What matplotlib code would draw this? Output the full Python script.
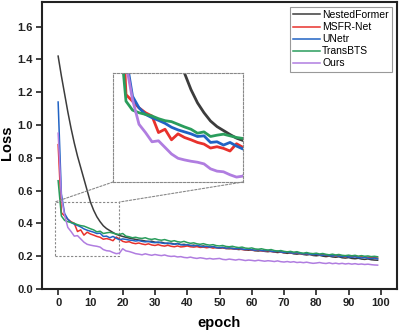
import matplotlib
matplotlib.use('Agg')
import matplotlib.pyplot as plt
import matplotlib.patches as patches
from matplotlib.patches import ConnectionPatch
import numpy as np

plt.rcParams['font.family'] = ['Liberation Sans', 'DejaVu Sans']

epochs = np.arange(100)

nestedformer = [1.42, 1.30, 1.19, 1.08, 0.98, 0.89, 0.81, 0.74, 0.67, 0.60,
                0.53, 0.48, 0.44, 0.41, 0.385, 0.368, 0.356, 0.344, 0.333, 0.326,
                0.32, 0.315, 0.31, 0.306, 0.302, 0.298, 0.296, 0.292, 0.289, 0.291,
                0.285, 0.282, 0.285, 0.279, 0.276, 0.279, 0.273, 0.277, 0.27, 0.272,
                0.268, 0.264, 0.267, 0.262, 0.259, 0.262, 0.257, 0.254, 0.257, 0.252,
                0.25, 0.253, 0.247, 0.245, 0.248, 0.243, 0.24, 0.243, 0.238, 0.236,
                0.238, 0.233, 0.231, 0.234, 0.229, 0.227, 0.23, 0.225, 0.222, 0.225,
                0.22, 0.217, 0.22, 0.214, 0.212, 0.215, 0.21, 0.207, 0.21, 0.204,
                0.202, 0.205, 0.2, 0.197, 0.2, 0.195, 0.193, 0.196, 0.19, 0.188,
                0.191, 0.186, 0.184, 0.187, 0.182, 0.18, 0.183, 0.178, 0.176, 0.175]

msfr_net = [0.88, 0.465, 0.445, 0.425, 0.41, 0.40, 0.35, 0.36, 0.328, 0.346,
            0.335, 0.328, 0.32, 0.315, 0.303, 0.307, 0.302, 0.294, 0.316, 0.305,
            0.29, 0.285, 0.288, 0.28, 0.276, 0.28, 0.274, 0.27, 0.275, 0.268,
            0.265, 0.27, 0.264, 0.261, 0.266, 0.26, 0.257, 0.262, 0.256, 0.258,
            0.262, 0.257, 0.255, 0.258, 0.253, 0.255, 0.251, 0.254, 0.249, 0.252,
            0.248, 0.25, 0.246, 0.248, 0.244, 0.242, 0.245, 0.24, 0.238, 0.241,
            0.236, 0.234, 0.237, 0.232, 0.23, 0.233, 0.228, 0.226, 0.229, 0.224,
            0.221, 0.224, 0.219, 0.217, 0.22, 0.215, 0.213, 0.216, 0.211, 0.209,
            0.212, 0.207, 0.21, 0.205, 0.203, 0.206, 0.201, 0.204, 0.199, 0.197,
            0.2, 0.196, 0.198, 0.194, 0.196, 0.192, 0.194, 0.19, 0.192, 0.188]

unetr = [1.14, 0.58, 0.46, 0.425, 0.405, 0.395, 0.387, 0.378, 0.366, 0.358,
         0.352, 0.346, 0.338, 0.34, 0.32, 0.322, 0.312, 0.32, 0.309, 0.30,
         0.305, 0.302, 0.298, 0.296, 0.292, 0.295, 0.29, 0.287, 0.29, 0.284,
         0.282, 0.286, 0.28, 0.277, 0.28, 0.275, 0.272, 0.276, 0.27, 0.267,
         0.27, 0.265, 0.262, 0.266, 0.26, 0.257, 0.26, 0.255, 0.258, 0.252,
         0.25, 0.253, 0.248, 0.251, 0.246, 0.244, 0.247, 0.242, 0.24, 0.243,
         0.238, 0.236, 0.239, 0.234, 0.232, 0.235, 0.229, 0.227, 0.23, 0.225,
         0.222, 0.225, 0.22, 0.218, 0.221, 0.216, 0.213, 0.216, 0.211, 0.209,
         0.212, 0.207, 0.205, 0.208, 0.203, 0.201, 0.204, 0.199, 0.197, 0.2,
         0.195, 0.193, 0.196, 0.191, 0.189, 0.192, 0.187, 0.185, 0.188, 0.183]

transbts = [0.66, 0.445, 0.418, 0.41, 0.405, 0.40, 0.392, 0.386, 0.383, 0.375,
            0.367, 0.36, 0.348, 0.352, 0.338, 0.342, 0.345, 0.34, 0.335, 0.332,
            0.338, 0.322, 0.318, 0.312, 0.315, 0.31, 0.308, 0.312, 0.305, 0.302,
            0.306, 0.30, 0.297, 0.301, 0.295, 0.29, 0.294, 0.288, 0.285, 0.29,
            0.283, 0.278, 0.281, 0.275, 0.272, 0.276, 0.27, 0.267, 0.27, 0.264,
            0.262, 0.265, 0.259, 0.257, 0.26, 0.255, 0.252, 0.255, 0.249, 0.247,
            0.25, 0.244, 0.242, 0.245, 0.24, 0.237, 0.24, 0.234, 0.231, 0.234,
            0.229, 0.226, 0.229, 0.224, 0.227, 0.221, 0.218, 0.222, 0.217, 0.215,
            0.218, 0.213, 0.216, 0.211, 0.208, 0.212, 0.207, 0.21, 0.205, 0.203,
            0.206, 0.202, 0.205, 0.2, 0.203, 0.199, 0.201, 0.197, 0.199, 0.196]

ours = [0.95, 0.56, 0.45, 0.375, 0.35, 0.322, 0.325, 0.305, 0.285, 0.272,
        0.267, 0.263, 0.26, 0.255, 0.24, 0.233, 0.231, 0.222, 0.215, 0.218,
        0.245, 0.232, 0.228, 0.222, 0.215, 0.212, 0.208, 0.214, 0.209, 0.205,
        0.21, 0.206, 0.203, 0.207, 0.201, 0.198, 0.2, 0.195, 0.197, 0.192,
        0.19, 0.194, 0.189, 0.186, 0.19, 0.187, 0.183, 0.186, 0.182, 0.184,
        0.186, 0.18, 0.178, 0.182, 0.179, 0.176, 0.18, 0.177, 0.173, 0.176,
        0.174, 0.171, 0.175, 0.172, 0.169, 0.172, 0.17, 0.167, 0.171, 0.166,
        0.164, 0.167, 0.163, 0.166, 0.161, 0.163, 0.16, 0.163, 0.159, 0.156,
        0.158, 0.161, 0.157, 0.155, 0.159, 0.154, 0.157, 0.153, 0.156, 0.152,
        0.155, 0.151, 0.154, 0.15, 0.152, 0.149, 0.151, 0.148, 0.146, 0.145]

names = ['NestedFormer', 'MSFR-Net', 'UNetr', 'TransBTS', 'Ours']
series = [nestedformer, msfr_net, unetr, transbts, ours]
colors = ['#3c3c3c', '#e8312c', '#2163c4', '#2a9d5c', '#b07de0']

fig = plt.figure(figsize=(4, 3.34), dpi=100)
ax = fig.add_axes([0.105, 0.135, 0.8875, 0.859])

for name, ys, c in zip(names, series, colors):
  ax.plot(epochs, ys, color=c, lw=1.1, label=name)

ax.set_xlim(-5, 105)
ax.set_ylim(0, 1.75)
ax.set_xticks(np.arange(0, 101, 10))
ax.set_yticks(np.arange(0, 1.61, 0.2))
ax.set_yticklabels([f'{v:.1f}' for v in np.arange(0, 1.61, 0.2)])
for lbl in ax.get_xticklabels() + ax.get_yticklabels():
  lbl.set_fontweight('bold')
ax.tick_params(direction='out', length=4, width=1.2, labelsize=8, colors='#222222', pad=2.5)
for sp in ax.spines.values():
  sp.set_linewidth(1.5)
  sp.set_color('#222222')
ax.set_xlabel('epoch', fontsize=10.5, fontweight='bold', labelpad=6)
ax.set_ylabel('Loss', fontsize=10.5, fontweight='bold')
ax.yaxis.set_label_coords(-0.078, 0.51)

leg = ax.legend(loc='upper right', bbox_to_anchor=(0.98, 0.979), bbox_transform=fig.transFigure,
                borderaxespad=0, fontsize=7.5, fancybox=False, edgecolor='#999999', framealpha=1,
                handlelength=2.6, handletextpad=0.2, labelspacing=0.2, borderpad=0.3)
leg.get_frame().set_linewidth(0.8)

# zoom box in main axes
x0, x1, y0, y1 = -1, 19, 0.2, 0.53
ax.add_patch(patches.Rectangle((x0, y0), x1 - x0, y1 - y0, fill=False,
                               ls=(0, (2, 1.5)), lw=0.8, ec='#888888'))

axins = fig.add_axes([0.2825, 0.455, 0.325, 0.326])
for ys, c in zip(series, colors):
  axins.plot(epochs, ys, color=c, lw=2.0)
axins.set_xlim(x0, x1)
axins.set_ylim(y0, y1)
axins.set_xticks([])
axins.set_yticks([])
for sp in axins.spines.values():
  sp.set_linestyle((0, (2, 1.5)))
  sp.set_linewidth(0.8)
  sp.set_edgecolor('#888888')

for (ia, ib) in [((0, 0), (x0, y1)), ((1, 0), (x1, y1))]:
  con = ConnectionPatch(xyA=ia, coordsA=axins.transAxes, xyB=ib, coordsB=ax.transData,
                        ls=(0, (2, 1.5)), lw=0.8, color='#888888')
  fig.add_artist(con)

fig.savefig('out.png', dpi=100)
